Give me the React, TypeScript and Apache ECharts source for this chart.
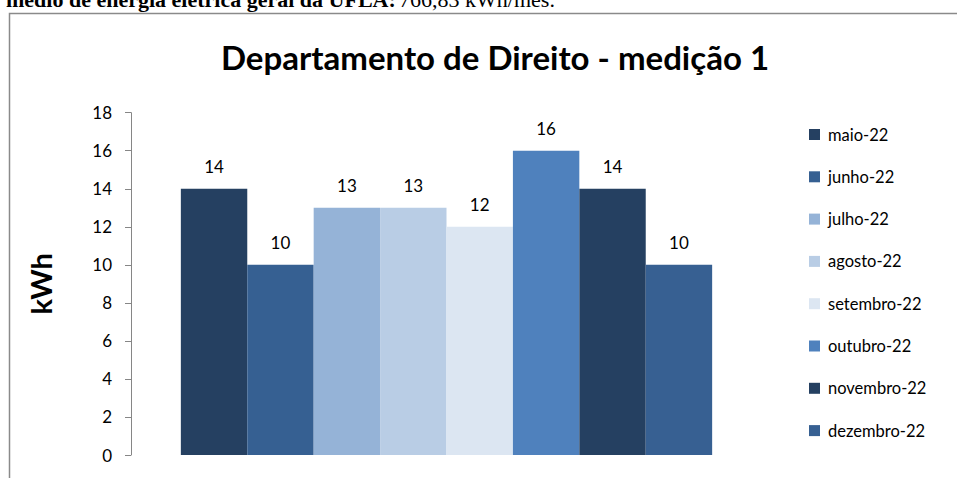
import React, { useEffect, useRef } from "react";
import * as echarts from "echarts";

const months = ["maio-22", "junho-22", "julho-22", "agosto-22", "setembro-22", "outubro-22", "novembro-22", "dezembro-22"];
const values = [14, 10, 13, 13, 12, 16, 14, 10];
const colors = ["#254061", "#366092", "#95B3D7", "#B9CDE5", "#DCE6F2", "#4F81BD", "#254061", "#376092"];
const categories = ["medição 1"];
const titleText = "Departamento de Direito - medição 1";
const yName = "kWh";

export default function App() {
  const ref = useRef<HTMLDivElement>(null);
  useEffect(() => {
    if (!ref.current) return;
    const chart = echarts.init(ref.current, null, { renderer: "svg" });
    const font = "Lato";
    chart.setOption({
      animation: false,
      backgroundColor: "#fff",
      title: {
        text: titleText,
        left: 490,
        top: 35,
        textAlign: "center",
        textStyle: { fontFamily: font, fontWeight: "bold", fontSize: 33, color: "#000" },
      },
      graphic: [
        {
          type: "rect",
          shape: { x: 9.5, y: 13.5, width: 1000, height: 600 },
          style: { fill: "none", stroke: "#8a8a8a", lineWidth: 1.5 },
          z: 0,
        },
        {
          type: "text",
          x: 6,
          y: 10,
          style: {
            text: "{b|médio de energia elétrica geral da UFLA:} {n|766,83 kWh/mês.}",
            verticalAlign: "bottom",
            rich: {
              b: { fontFamily: "Liberation Serif", fontWeight: "bold", fontSize: 22, fill: "#000" },
              n: { fontFamily: "Liberation Serif", fontSize: 22, fill: "#000" },
            },
          },
        },
      ],
      legend: {
        orient: "vertical",
        left: 804,
        top: 121,
        itemWidth: 11,
        itemHeight: 11,
        itemGap: 25.3,
        icon: "rect",
        data: months,
        textStyle: { fontFamily: font, fontSize: 16.5, color: "#000", padding: [0, 0, 0, 3] },
      },
      grid: { left: 131, right: 195, top: 112.7, bottom: 23, containLabel: false },
      xAxis: {
        type: "category",
        data: categories,
        show: false,
      },
      yAxis: {
        type: "value",
        min: 0,
        max: 18,
        interval: 2,
        name: yName,
        nameLocation: "middle",
        nameGap: 76,
        nameTextStyle: { fontFamily: font, fontWeight: "bold", fontSize: 29, color: "#000" },
        axisLine: { show: true, lineStyle: { color: "#868686", width: 1 } },
        axisTick: { show: true, length: 6, lineStyle: { color: "#868686" } },
        splitLine: { show: false },
        axisLabel: { fontFamily: font, fontSize: 17, color: "#000", margin: 19 },
      },
      series: months.map((m, i) => ({
        name: m,
        type: "bar",
        data: [values[i]],
        barGap: "0%",
        barCategoryGap: "15.8%",
        itemStyle: { color: colors[i] },
        label: {
          show: true,
          position: "top",
          distance: 14,
          fontFamily: font,
          fontSize: 17,
          color: "#000",
        },
      })),
    });
    return () => chart.dispose();
  }, []);
  return <div ref={ref} style={{ position: "fixed", left: 0, top: 0, width: 957, height: 478 }} />;
}
